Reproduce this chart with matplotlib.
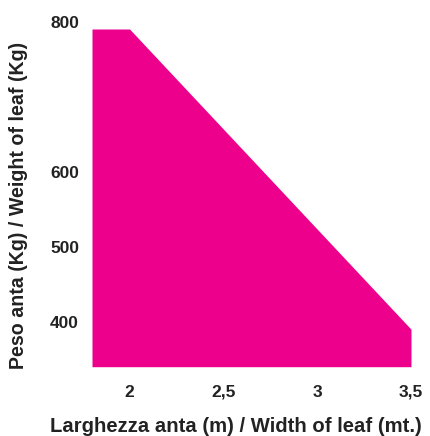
import matplotlib
matplotlib.use("Agg")
import matplotlib.pyplot as plt
import matplotlib.transforms as mtransforms

# Data
width_m = [1.8, 2.0, 3.5]
weight_kg = [800, 800, 400]
baseline_kg = 350
x_ticks = [2, 2.5, 3, 3.5]
x_tick_labels = ["2", "2,5", "3", "3,5"]
y_ticks = [400, 500, 600, 800]
y_tick_labels = ["400", "500", "600", "800"]

plt.rcParams['font.family'] = ['Liberation Sans', 'DejaVu Sans']

fig = plt.figure(figsize=(4.30, 4.36), dpi=100)
ax = fig.add_axes([92/430, 1 - 366.7/436, (411-92)/430, (366.7-29)/436])

ax.fill_between(width_m, weight_kg, baseline_kg, color="#EC008C", linewidth=0)
ax.set_xlim(1.8, 3.5)
ax.set_ylim(350, 800)

for s in ax.spines.values():
    s.set_visible(False)

ax.set_xticks(x_ticks)
ax.set_xticklabels(x_tick_labels, fontsize=12.5, fontweight="bold", color="#222222")
ax.set_yticks(y_ticks)
ax.set_yticklabels(y_tick_labels, fontsize=12.5, fontweight="bold", color="#222222")
ax.tick_params(axis="both", length=0)
ax.tick_params(axis="x", pad=13)
ax.tick_params(axis="y", pad=9.4)

offset = mtransforms.ScaledTranslation(0, 7/100, fig.dpi_scale_trans)
for lbl in ax.get_yticklabels():
    lbl.set_transform(lbl.get_transform() + offset)

fig.text((47+425)/2/430, 1 - 426/436, "Larghezza anta (m) / Width of leaf (mt.)",
         ha="center", va="center", fontsize=14.6, fontweight="bold", color="#222222")
fig.text(19/430, 1 - 205/436, "Peso anta (Kg) / Weight of leaf (Kg)",
         ha="center", va="center", rotation=90, fontsize=14.1, fontweight="bold", color="#222222")

fig.savefig("out.png", dpi=100)
